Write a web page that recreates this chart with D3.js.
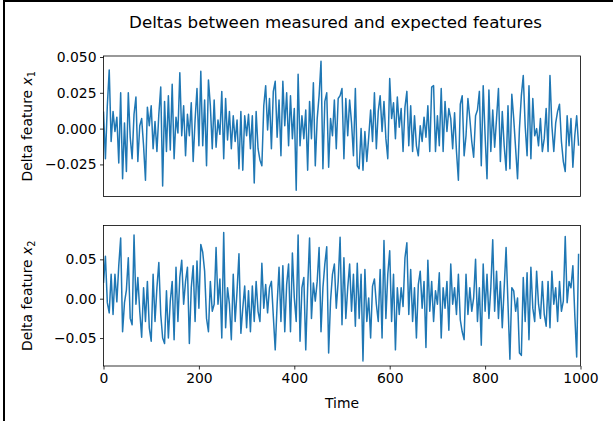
<!DOCTYPE html>
<html>
<head>
<meta charset="utf-8">
<script src="https://cdnjs.cloudflare.com/ajax/libs/d3/7.8.5/d3.min.js"></script>
<style>
  html, body { margin: 0; padding: 0; background: #fff; }
  svg text { font-family: "DejaVu Sans", sans-serif; fill: #000; }
</style>
</head>
<body>
<div id="chart-area"></div>
<script>
// values, one every 4 time steps
const STEP = 4;

const deltaX1 = [
  0.012, -0.021, 0.016, 0.041, -0.009, 0.012, -0.002, 0.008, -0.024, 0.025,
  -0.035, 0.004, -0.030, 0.025, -0.006, -0.021, 0.010, 0.022, -0.023, 0.002,
  0.007, -0.012, -0.036, 0.015, 0.002, 0.016, -0.014, 0.005, -0.016, 0.010,
  0.029, -0.040, 0.019, -0.016, 0.023, -0.015, 0.031, -0.021, 0.008, -0.003,
  0.039, -0.005, 0.016, -0.019, 0.010, -0.005, 0.018, -0.023, 0.006, 0.028,
  -0.012, 0.040, -0.012, 0.020, -0.026, 0.034, 0.016, -0.014, 0.020, -0.013,
  0.006, -0.004, 0.026, -0.021,
  0.021, -0.008, 0.012, -0.014, 0.009, -0.009, 0.006, -0.028, 0.012, -0.029,
  0.009, -0.005, 0.010, -0.014, 0.009, -0.038, 0.012, -0.014, -0.022, -0.026,
  0.016, 0.030, -0.001, 0.021, -0.014, 0.026, 0.033, -0.006, 0.020, -0.019,
  0.033, 0.002, 0.025, -0.012, 0.023, -0.007, 0.014, -0.043, 0.038, -0.012,
  0.009, -0.007, 0.013, -0.029, 0.019, -0.007, 0.032, -0.026, 0.007, 0.023,
  0.047, -0.028, 0.019, 0.025, -0.027, 0.007, -0.005, 0.020, -0.014, 0.021,
  0.023,
  0.028, -0.021, 0.021, -0.005, 0.020, 0.004, -0.019, 0.028, -0.026, -0.028,
  0.000, -0.029, -0.002, -0.023, -0.006, 0.013, -0.009, 0.025, -0.014, 0.012,
  0.023, -0.002, 0.019, -0.007, -0.021, 0.035, 0.007, 0.018, -0.007, 0.022,
  0.001, 0.014, -0.016, 0.015, 0.026, -0.012, 0.016, -0.016, 0.009, -0.012,
  -0.019, 0.002, -0.009, 0.008, -0.006, 0.016, -0.016, 0.029, 0.030, -0.016,
  0.009, -0.012, 0.028, -0.016, 0.019, -0.002, 0.014, 0.007, -0.014, 0.011,
  -0.016, -0.036, 0.017, 0.023, -0.019,
  -0.005, 0.021, 0.007, -0.009, -0.020, 0.009, 0.013, 0.026, -0.026, 0.030,
  -0.005, -0.035, 0.027, -0.016, 0.013, -0.013, 0.007, 0.028, -0.023, 0.012,
  -0.012, -0.029, 0.016, -0.028, 0.024, 0.007, -0.014, -0.035, 0.000, 0.023,
  0.037, 0.002, -0.019, 0.030, -0.021, 0.021, -0.005, 0.000, -0.012, 0.007,
  -0.016, -0.007, 0.014, -0.016, 0.037, 0.002, -0.016, 0.004, 0.012, 0.017,
  -0.009, -0.023, -0.030, 0.009, -0.012, 0.007, -0.027, -0.005, 0.009, -0.012
];

const deltaX2 = [
  0.020, 0.054, -0.005, -0.018, 0.031, -0.020, 0.031, -0.004, 0.042, 0.077,
  -0.042, -0.005, 0.011, 0.052, -0.025, -0.033, 0.081, -0.007, 0.027, -0.016,
  -0.049, 0.014, -0.029, 0.022, -0.037, -0.054, 0.031, -0.029, 0.014, 0.046,
  -0.020, -0.050, -0.057, 0.010, -0.050, -0.003, 0.022, -0.052, 0.040, -0.029,
  0.027, 0.049, -0.007, 0.022, 0.040, -0.057, 0.014, 0.042, -0.029, 0.048,
  -0.012, 0.069, 0.059, 0.035, -0.025, -0.042, 0.022, -0.016, -0.007, 0.065,
  -0.007, 0.025, -0.050, 0.084,
  -0.037, 0.014, -0.007, -0.052, 0.031, -0.029, 0.010, 0.057, -0.044, -0.012,
  0.016, -0.037, 0.010, -0.042, 0.016, -0.029, 0.022, -0.016, -0.029, 0.045,
  -0.012, 0.018, -0.018, 0.014, 0.022, -0.022, -0.065, -0.007, 0.040, -0.029,
  0.042, -0.042, 0.018, 0.044, -0.042, 0.058, 0.001, -0.029, 0.081, -0.054,
  0.014, 0.027, -0.065, 0.014, 0.077, -0.025, 0.020, -0.003, 0.022, 0.065,
  -0.042, 0.014, 0.044, 0.066, -0.069, -0.003, 0.031, 0.044, -0.012, 0.022,
  0.078,
  -0.033, 0.052, -0.025, 0.014, 0.044, -0.016, 0.031, -0.035, 0.045, -0.025,
  0.031, -0.079, 0.037, -0.029, 0.001, -0.050, 0.016, 0.025, -0.007, -0.029,
  0.037, -0.050, 0.074, -0.025, 0.031, 0.061, -0.029, 0.031, -0.065, 0.014,
  -0.020, 0.014, -0.010, 0.052, 0.071, -0.020, 0.037, -0.029, 0.014, -0.050,
  0.018, 0.035, -0.012, 0.022, -0.062, 0.049, -0.016, 0.022, -0.029, 0.010,
  -0.007, 0.033, -0.050, 0.014, -0.012, 0.022, -0.040, 0.044, -0.007, 0.014,
  -0.020, 0.031, -0.027, -0.042,
  -0.052, 0.031, -0.020, 0.014, -0.016, 0.001, 0.050, -0.029, 0.014, -0.059,
  0.044, -0.016, 0.031, -0.025, 0.014, 0.075, -0.016, 0.035, -0.025, 0.022,
  -0.037, 0.014, 0.065, -0.007, -0.077, 0.014, 0.010, -0.016, 0.001, -0.069,
  -0.072, 0.027, -0.029, 0.033, -0.052, 0.040, -0.012, -0.029, 0.035, -0.007,
  -0.025, 0.022, -0.020, -0.035, 0.022, -0.037, 0.035, -0.007, 0.014, -0.029,
  0.022, -0.016, -0.003, 0.079, -0.005, 0.022, 0.014, 0.042, -0.020, -0.074,
  0.057
];

const xTicks = [0, 200, 400, 600, 800, 1000];
const yTicksX1 = [0.050, 0.025, 0.000, -0.025];
const yTicksX2 = [0.05, 0.00, -0.05];

const W = 613, H = 421;
const LEFT = 103.5, RIGHT = 580.5;
const PANEL_H = 140.5;
const TOPS = [56, 225.5];
const LINE_COLOR = "#1f77b4";
const FONT = "13.9px";

const svg = d3.select("#chart-area").append("svg")
  .attr("width", W)
  .attr("height", H);

// black frame on the top and left edge of the picture
svg.append("line")
  .attr("x1", 3).attr("x2", W).attr("y1", 1).attr("y2", 1)
  .attr("stroke", "#000").attr("stroke-width", 2);
svg.append("line")
  .attr("x1", 4).attr("x2", 4).attr("y1", 0).attr("y2", H)
  .attr("stroke", "#000").attr("stroke-width", 2);

svg.append("text")
  .attr("x", 335.5)
  .attr("y", 28)
  .attr("text-anchor", "middle")
  .attr("font-size", "16.7px")
  .text("Deltas between measured and expected features");

const x = d3.scaleLinear()
  .domain([0, 1000])
  .range([0, RIGHT - LEFT]);

const panels = [
  { values: deltaX1, domain: [-0.0474, 0.0507], ticks: yTicksX1, fmt: d3.format(".3f"), sub: "1" },
  { values: deltaX2, domain: [-0.0855, 0.093], ticks: yTicksX2, fmt: d3.format(".2f"), sub: "2" }
];

panels.forEach((p, i) => {
  const g = svg.append("g")
    .attr("transform", `translate(${LEFT},${TOPS[i]})`);

  const y = d3.scaleLinear()
    .domain(p.domain)
    .range([PANEL_H, 0]);

  g.append("clipPath")
    .attr("id", `clip${i}`)
    .append("rect")
    .attr("width", RIGHT - LEFT)
    .attr("height", PANEL_H);

  const line = d3.line()
    .x((d, j) => x(j * STEP))
    .y(d => y(d));

  g.append("path")
    .datum(p.values)
    .attr("clip-path", `url(#clip${i})`)
    .attr("fill", "none")
    .attr("stroke", LINE_COLOR)
    .attr("stroke-width", 1.5)
    .attr("stroke-linejoin", "round")
    .attr("d", line);

  const yAxis = d3.axisLeft(y)
    .tickValues(p.ticks)
    .tickFormat(d => p.fmt(d).replace("-", "\u2212"))
    .tickSize(3.5)
    .tickSizeOuter(0)
    .tickPadding(3.5);

  const yg = g.append("g").call(yAxis);
  yg.select(".domain").remove();
  yg.selectAll("line").attr("stroke", "#000").attr("stroke-width", 0.8);
  yg.selectAll("text")
    .attr("font-family", "DejaVu Sans")
    .attr("font-size", FONT)
    .attr("fill", "#000");

  if (i === 1) {
    const xAxis = d3.axisBottom(x)
      .tickValues(xTicks)
      .tickFormat(d3.format("d"))
      .tickSize(3.5)
      .tickSizeOuter(0)
      .tickPadding(3.5);
    const xg = g.append("g")
      .attr("transform", `translate(0,${PANEL_H})`)
      .call(xAxis);
    xg.select(".domain").remove();
    xg.selectAll("line").attr("stroke", "#000").attr("stroke-width", 0.8);
    xg.selectAll("text")
      .attr("font-family", "DejaVu Sans")
      .attr("font-size", FONT)
      .attr("fill", "#000");

    g.append("text")
      .attr("x", (RIGHT - LEFT) / 2)
      .attr("y", PANEL_H + 42)
      .attr("text-anchor", "middle")
      .attr("font-size", FONT)
      .text("Time");
  }

  // frame
  g.append("rect")
    .attr("width", RIGHT - LEFT)
    .attr("height", PANEL_H)
    .attr("fill", "none")
    .attr("stroke", "#000")
    .attr("stroke-width", 0.8);

  // y label with subscript
  const label = g.append("text")
    .attr("transform", `translate(${32 - LEFT},${PANEL_H / 2}) rotate(-90)`)
    .attr("text-anchor", "middle")
    .attr("font-size", FONT);
  label.append("tspan").text("Delta feature ");
  label.append("tspan").attr("font-style", "italic").text("x");
  label.append("tspan")
    .attr("font-size", "9.8px")
    .attr("dy", "3")
    .text(p.sub);
});
</script>
</body>
</html>
